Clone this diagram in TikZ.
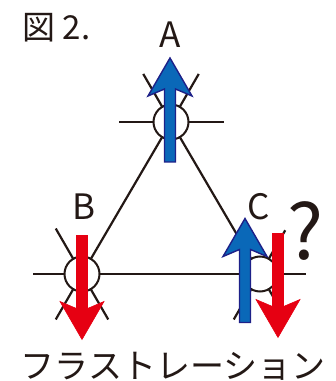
\documentclass[tikz,border=0pt]{standalone}
\usepackage{fontspec}
\setmainfont{Noto Sans CJK JP}
\usepackage{xcolor}
\usepackage{tikz}
\usetikzlibrary{calc}
\definecolor{spinblue}{HTML}{0A68B8}
\definecolor{spinnavy}{HTML}{1D2088}
\definecolor{spinred}{HTML}{E60012}
\definecolor{bondgray}{HTML}{231815}

\tikzset{
  site/.style={draw=bondgray, circle, fill=white, line width=2pt, minimum size=35pt, inner sep=0pt, outer sep=0pt},
  bond/.style={draw=bondgray, line width=2.2pt},
  upspin/.style={fill=spinblue, draw=spinnavy, line width=1.4pt},
  downspin/.style={fill=spinred, draw=spinred, line width=0.6pt},
  pics/spin/.style={code={
    \path[pic actions] (-5.5,-52) -- (-5.5,21) -- (-22,14) -- (0,52) -- (22,14) -- (5.5,21) -- (5.5,-52) -- cycle;
  }}
}

\begin{document}
\begin{tikzpicture}[x=1pt, y=1pt, every node/.style={align=center, text=bondgray}]
  \useasboundingbox (0,0) rectangle (336,381);

  % lattice sites
  \node[site] (A) at (171,259) {};
  \node[site] (B) at (82,107) {};
  \node[site] (C) at (260,107) {};

  % triangle
  \draw[bond] (A) -- (B);
  \draw[bond] (A) -- (C);
  \draw[bond] (B) -- (C);

  % bonds to the rest of the lattice
  \draw[bond] (A.0) -- ++(0:35);
  \draw[bond] (A.180) -- ++(180:35);
  \draw[bond] (A.60) -- ++(60:38);
  \draw[bond] (A.120) -- ++(120:38);
  \draw[bond] (B.180) -- ++(180:32);
  \draw[bond] (B.120) -- ++(120:35);
  \draw[bond] (B.240) -- ++(240:35);
  \draw[bond] (B.300) -- ++(300:35);
  \draw[bond] (C.0) -- ++(0:28);
  \draw[bond] (C.60) -- ++(60:33);
  \draw[bond] (C.240) -- ++(240:35);
  \draw[bond] (C.300) -- ++(300:35);

  % spins
  \pic[upspin] (spinA) at (170,271) {spin};
  \pic[downspin, rotate=180] (spinB) at (82,93.5) {spin};
  \pic[upspin] (spinCup) at (245,110.5) {spin};
  \pic[downspin, rotate=180] (spinCdown) at (278,95.5) {spin};

  % labels
  \node[font=\fontsize{35}{35}\selectfont, anchor=base] (labA) at (170,333) {A};
  \node[font=\fontsize{35}{35}\selectfont, anchor=base] (labB) at (84,161) {B};
  \node[font=\fontsize{35}{35}\selectfont, anchor=base] (labC) at (259,161) {C};
  \node[font=\fontsize{76}{76}\selectfont] (query) at (306,150) {?};
  \node[font=\fontsize{33}{33}\selectfont, anchor=base west] (title) at (19,341) {図 2.};
  \node[font=\fontsize{34}{34}\selectfont] (caption) at (173,15) {フラストレーション};
\end{tikzpicture}
\end{document}
